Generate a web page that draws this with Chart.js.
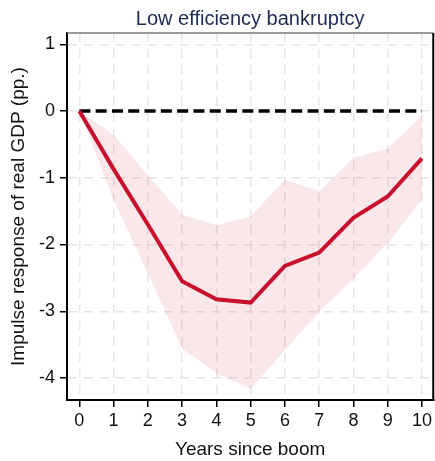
<!DOCTYPE html>
<html>
<head>
<meta charset="utf-8">
<script src="https://cdn.jsdelivr.net/npm/chart.js@4.4.1/dist/chart.umd.min.js"></script>
<style>
  html, body { margin: 0; padding: 0; background: #fff; }
  #chart { display: block; }
</style>
</head>
<body>
<canvas id="chart" width="435" height="461"></canvas>
<script>
// values
var years = [0, 1, 2, 3, 4, 5, 6, 7, 8, 9, 10];
var irf   = [0, -0.87, -1.70, -2.55, -2.82, -2.87, -2.32, -2.12, -1.60, -1.28, -0.71];
var upper = [0, -0.36, -0.96, -1.55, -1.71, -1.58, -1.03, -1.20, -0.70, -0.56, -0.07];
var lower = [0, -1.33, -2.43, -3.56, -3.93, -4.16, -3.58, -3.01, -2.51, -1.98, -1.33];
var zero  = [0, 0, 0, 0, 0, 0, 0, 0, 0, 0, 0];
var xTicks = [0, 1, 2, 3, 4, 5, 6, 7, 8, 9, 10];
var yTicks = [-4, -3, -2, -1, 0, 1];

var chartTitle = 'Low efficiency bankruptcy';
var fontFam = '"Liberation Sans", Arial, Helvetica, sans-serif';
var red = 'rgb(200, 16, 46)';

function pts(vals) {
    return years.map(function (x, i) { return {x: x, y: vals[i]}; });
}

// title centered over the plot + grey top / black right frame
var framePlugin = {
    id: 'frame',
    afterDraw: function (chart) {
        var ctx = chart.ctx, a = chart.chartArea;
        ctx.save();
        ctx.lineWidth = 1.5;
        ctx.strokeStyle = '#7a7a7a';
        ctx.beginPath();
        ctx.moveTo(a.left, a.top);
        ctx.lineTo(a.right, a.top);
        ctx.stroke();
        ctx.lineWidth = 2;
        ctx.strokeStyle = '#000';
        ctx.beginPath();
        ctx.moveTo(a.right, a.top);
        ctx.lineTo(a.right, a.bottom);
        ctx.stroke();
        ctx.fillStyle = '#1e2c52';
        ctx.font = '20px ' + fontFam;
        ctx.textAlign = 'center';
        ctx.textBaseline = 'alphabetic';
        ctx.fillText(chartTitle, (a.left + a.right) / 2, 25);
        ctx.restore();
    }
};

var gridOpts = {
    color: '#e6e6e6',
    lineWidth: 1.5,
    drawTicks: true,
    tickLength: 7,
    tickColor: '#000',
    tickWidth: 1.5,
    tickBorderDash: []
};
// in v4 the grid line dash lives under border.dash
var borderOpts = { color: '#000', width: 2, dash: [9, 7] };

new Chart(document.getElementById('chart'), {
    type: 'line',
    data: {
        datasets: [{
            label: 'IRF',
            data: pts(irf),
            borderColor: red,
            borderWidth: 4,
            pointRadius: 0,
            fill: false
        }, {
            label: 'zero',
            data: pts(zero),
            borderColor: '#000',
            borderWidth: 3.5,
            borderDash: [11, 5.3],
            pointRadius: 0,
            fill: false
        }, {
            label: 'upper',
            data: pts(upper),
            borderWidth: 0,
            borderColor: 'rgba(0,0,0,0)',
            backgroundColor: 'rgba(200, 16, 46, 0.1)',
            pointRadius: 0,
            fill: '+1'
        }, {
            label: 'lower',
            data: pts(lower),
            borderWidth: 0,
            borderColor: 'rgba(0,0,0,0)',
            pointRadius: 0,
            fill: false
        }]
    },
    options: {
        responsive: false,
        animation: false,
        layout: { padding: { top: 33, right: 1, left: 0, bottom: 0 } },
        plugins: {
            legend: { display: false },
            tooltip: { enabled: false },
            title: { display: false }
        },
        scales: {
            x: {
                type: 'linear',
                min: -0.36,
                max: 10.33,
                afterBuildTicks: function (s) { s.ticks = xTicks.map(function (v) { return {value: v}; }); },
                afterFit: function (s) { s.height = 61; },
                grid: gridOpts,
                border: borderOpts,
                ticks: {
                    color: '#111',
                    padding: 3,
                    maxRotation: 0,
                    font: { family: fontFam, size: 18 }
                },
                title: {
                    display: true,
                    text: 'Years since boom',
                    color: '#111',
                    padding: { top: 0, bottom: 0 },
                    font: { family: fontFam, size: 19 }
                }
            },
            y: {
                min: -4.33,
                max: 1.17,
                afterBuildTicks: function (s) { s.ticks = yTicks.map(function (v) { return {value: v}; }); },
                afterFit: function (s) { s.width = 67; },
                grid: gridOpts,
                border: borderOpts,
                ticks: {
                    color: '#111',
                    padding: 5,
                    font: { family: fontFam, size: 18 }
                },
                title: {
                    display: true,
                    text: 'Impulse response of real GDP (pp.)',
                    color: '#111',
                    padding: { top: 7, bottom: 0 },
                    font: { family: fontFam, size: 19 }
                }
            }
        }
    },
    plugins: [framePlugin]
});
</script>
</body>
</html>
